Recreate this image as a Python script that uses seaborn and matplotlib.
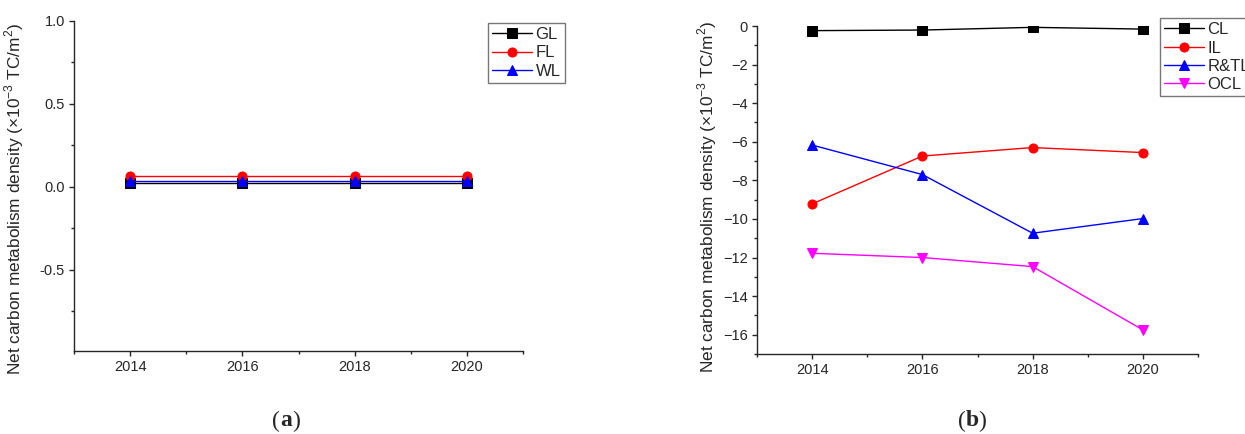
import pandas as pd
import numpy as np
import matplotlib
matplotlib.use('Agg')
import matplotlib.pyplot as plt
from matplotlib.ticker import MultipleLocator
import seaborn as sns

# Data
years = [2014, 2016, 2018, 2020]

# panel (a)
gl = [0.022, 0.022, 0.022, 0.022]
fl = [0.068, 0.068, 0.068, 0.068]
wl = [0.038, 0.038, 0.038, 0.038]

# panel (b)
cl = [-0.24, -0.21, -0.07, -0.16]
il = [-9.22, -6.74, -6.30, -6.56]
rtl = [-6.17, -7.70, -10.74, -9.98]
ocl = [-11.78, -12.0, -12.47, -15.75]

sns.set_style("ticks")
plt.rcParams['font.family'] = ['Liberation Sans', 'DejaVu Sans']
plt.rcParams['mathtext.fontset'] = 'custom'
plt.rcParams['mathtext.rm'] = 'Liberation Sans'

ylabel = 'Net carbon metabolism density (\u00d710$^{-3}$ TC/m$^{2}$)'

W, H = 1245, 434
fig = plt.figure(figsize=(W / 100, H / 100), dpi=100)
ax1 = fig.add_axes([74 / W, 1 - 351 / H, (523 - 74) / W, (351 - 21) / H])
ax2 = fig.add_axes([757 / W, 1 - 354 / H, (1198 - 757) / W, (354 - 26) / H])


def draw(ax, series):
    for name, vals, color, marker in series:
        df = pd.DataFrame({'year': years, 'value': vals})
        sns.lineplot(data=df, x='year', y='value', ax=ax, color=color, marker=marker,
                     markersize=6.5, markeredgecolor=color, linewidth=1, label=name)


draw(ax1, [('GL', gl, 'black', 's'), ('FL', fl, 'red', 'o'), ('WL', wl, 'blue', '^')])
draw(ax2, [('CL', cl, 'black', 's'), ('IL', il, 'red', 'o'),
           ('R&TL', rtl, 'blue', '^'), ('OCL', ocl, 'magenta', 'v')])

for ax in (ax1, ax2):
    sns.despine(ax=ax)
    ax.set_xlim(2013, 2021)
    ax.set_xticks(years)
    ax.xaxis.set_minor_locator(MultipleLocator(1))
    ax.set_xlabel('')
    ax.set_ylabel(ylabel, fontsize=12.4)
    ax.tick_params(which='major', direction='out', length=3.5, width=1, labelsize=10.5, pad=3)
    ax.tick_params(which='minor', direction='out', length=2.2, width=1)
    for s in ax.spines.values():
        s.set_linewidth(1)

ax1.set_ylim(-0.99, 1.0)
ax1.set_yticks([-0.5, 0.0, 0.5, 1.0])
ax1.yaxis.set_minor_locator(MultipleLocator(0.25))
ax1.set_yticklabels(['-0.5', '0.0', '0.5', '1.0'])
ax1.yaxis.set_label_coords(-0.107, 0.46)

ax2.set_ylim(-17, 0)
ax2.set_yticks(np.arange(-16, 1, 2))
ax2.yaxis.set_minor_locator(MultipleLocator(1))
ax2.yaxis.set_label_coords(-0.086, 0.479)

# legends (the right one runs past the figure edge, as in the original)
leg_kw = dict(fontsize=12, frameon=True, fancybox=False, edgecolor='#555555',
              handlelength=2.4, handletextpad=0.2, borderpad=0.25, labelspacing=0.2,
              borderaxespad=0)
l1 = ax1.legend(loc='upper left', bbox_to_anchor=(0.922, 0.994), **leg_kw)
l2 = ax2.legend(loc='upper left', bbox_to_anchor=(0.914, 1.024), **leg_kw)
for lg in (l1, l2):
    lg.get_frame().set_linewidth(1)

# panel captions: normal parens, bold letter
for cx, letter, lw in [(286, 'a', 11.8), (972, 'b', 13.1)]:
    pw = 7.9
    start = cx - (2 * pw + lw) / 2
    y = 1 - 421 / H
    fig.text((start + pw) / W, y, '(', fontsize=17, family='Liberation Serif', ha='right', va='center')
    fig.text((start + pw) / W, y, letter, fontsize=17, family='Liberation Serif',
             weight='bold', ha='left', va='center')
    fig.text((start + pw + lw) / W, y, ')', fontsize=17, family='Liberation Serif', ha='left', va='center')

fig.savefig('out.png', dpi=100)
